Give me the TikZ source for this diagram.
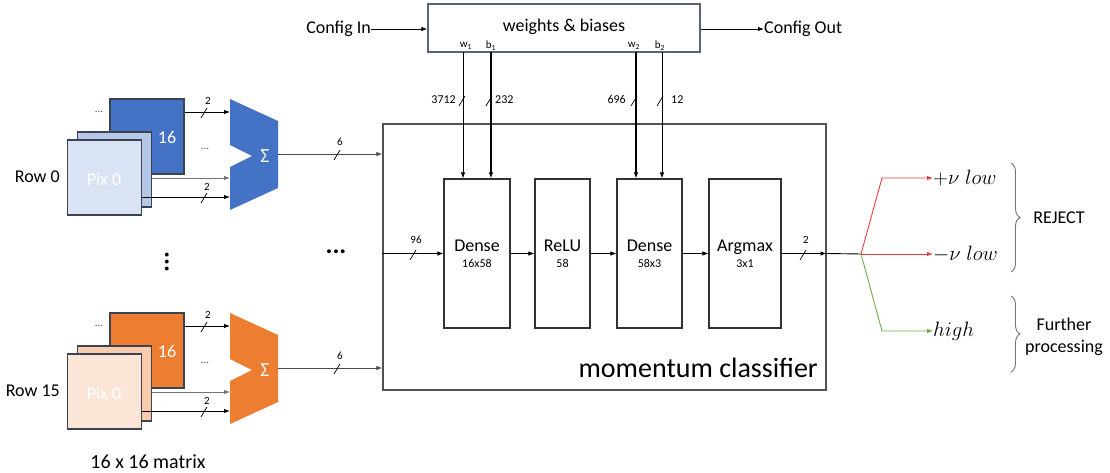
\documentclass[tikz,border=0pt]{standalone}
\usepackage{fontspec}
\setmainfont{Carlito}
\usetikzlibrary{arrows.meta,decorations.pathreplacing}
\definecolor{bdark}{HTML}{4472C4}
\definecolor{bmid}{HTML}{B4C7E7}
\definecolor{blight}{HTML}{DAE3F3}
\definecolor{odark}{HTML}{ED7D31}
\definecolor{omid}{HTML}{F8CBAD}
\definecolor{olight}{HTML}{FBE5D6}
\definecolor{edgegray}{HTML}{333333}
\definecolor{pixedge}{HTML}{3B4250}
\definecolor{wbedge}{HTML}{5A6478}
\definecolor{rline}{HTML}{F03C3C}
\definecolor{gline}{HTML}{70AD47}
\tikzset{
  txt/.style={font=\fontsize{18}{22}\selectfont, inner sep=0pt},
  tiny/.style={font=\fontsize{11}{13}\selectfont, inner sep=0pt},
  busnum/.style={font=\fontsize{12}{14}\selectfont, inner sep=0pt},
  arr/.style={line width=0.9pt, -{Latex[length=6pt,width=4.5pt]}},
  pixbox/.style={draw=pixedge, line width=1.2pt, minimum width=74pt, minimum height=75pt, inner sep=0pt},
  layer/.style={draw=edgegray, line width=1.1pt, minimum height=149pt, inner sep=0pt, align=center,
    font=\fontsize{18}{17}\selectfont},
  busslash/.pic={\draw[line width=0.7pt] (-3,5) -- (3,-5);},
  mathlbl/.style={font=\fontsize{20}{24}\selectfont, inner sep=0pt, anchor=west},
}
\newcommand\pixgroup[7]{%
\begin{scope}[shift={(0,#2)}]
  \node[pixbox, fill=#3] (back#1) at (147,136.5) {};
  \node[pixbox, fill=#4] (mid#1) at (114.5,169.5) {};
  \node[pixbox, fill=#5] (front#1) at (104.5,177.5) {};
  \node[txt, text=white] (sixteen#1) at (167,137) {16};
  \node[txt, text=white] (pix#1) at (104,179) {Pix 0};
  \node[tiny, text=black!70] (dotsA#1) at (99,112) {...};
  \node[tiny, text=black!70] (dotsB#1) at (205,149) {...};
  \node[txt, anchor=east] (row#1) at (60,#7) {#6};
  \fill[#3] (230,99) -- (278,121) -- (278,188) -- (230,210) -- (230,167) -- (252,156) -- (230,145) -- cycle;
  \node[font=\fontsize{20}{24}\selectfont, inner sep=0pt, text=white] (sigma#1) at (265,156) {Σ};
  \coordinate (tinA#1) at (230,112);
  \coordinate (tinB#1) at (230,178);
  \coordinate (tinC#1) at (230,197);
  \coordinate (tout#1) at (278,154);
  \draw[arr] (tinA#1 -| back#1.east) -- (tinA#1);
  \draw[arr, draw=black!55] (tinB#1 -| mid#1.east) -- (tinB#1);
  \draw[arr] (tinC#1 -| front#1.east) -- (tinC#1);
  \path (204,113) pic{busslash} (204,198) pic{busslash};
  \node[tiny] (nA#1) at (208,101) {2};
  \node[tiny] (nC#1) at (207,187) {2};
  \draw[arr, draw=black!70] (tout#1) -- (tout#1 -| cls.west);
  \path (337,155) pic{busslash};
  \node[tiny] (nO#1) at (340,142) {6};
\end{scope}}
\begin{document}
\begin{tikzpicture}[x=1pt,y=-1pt]
\useasboundingbox[fill=white] (0,0) rectangle (1110,473);

% weights & biases
\node[draw=wbedge, line width=1.2pt, minimum width=272pt, minimum height=48pt, inner sep=0pt] (wb) at (564,28) {};
\node[txt] (wbtxt) at (564,27) {weights \& biases};
\node[txt, anchor=east] (cin) at (371,29) {Config In};
\node[txt, anchor=west] (cout) at (764,29) {Config Out};
\draw[arr] (cin.east) -- (cin.east -| wb.west);
\draw[arr] (wb.east |- cout.west) -- (cout.west);
\node[tiny] (lw1) at (466,46) {w\textsubscript{1}};
\node[tiny] (lb1) at (491,46) {b\textsubscript{1}};
\node[tiny] (lw2) at (634,46) {w\textsubscript{2}};
\node[tiny] (lb2) at (660,46) {b\textsubscript{2}};

% classifier
\node[draw=edgegray!85, line width=1.2pt, minimum width=443pt, minimum height=266pt, inner sep=0pt] (cls) at (604.5,257) {};
\node[font=\fontsize{28}{32}\selectfont, inner sep=0pt, anchor=east] (clstxt) at (818,368) {momentum classifier};

\node[layer, minimum width=66pt] (d1) at (477,253.5) {Dense\\[-1pt]{\fontsize{12}{14}\selectfont 16x58}};
\node[layer, minimum width=55pt] (relu) at (562.5,253.5) {ReLU\\[-1pt]{\fontsize{12}{14}\selectfont 58}};
\node[layer, minimum width=65pt] (d2) at (649.5,253.5) {Dense\\[-1pt]{\fontsize{12}{14}\selectfont 58x3}};
\node[layer, minimum width=72pt] (amax) at (745,253.5) {Argmax\\[-1pt]{\fontsize{12}{14}\selectfont 3x1}};

% weight buses
\coordinate (w1) at (463,52);
\coordinate (b1) at (491,52);
\coordinate (w2) at (636,52);
\coordinate (b2) at (662,52);
\draw[arr] (w1) -- (w1 |- d1.north);
\draw[arr, line width=1.3pt] (b1) -- (b1 |- d1.north);
\draw[arr, line width=1.3pt] (w2) -- (w2 |- d2.north);
\draw[arr] (b2) -- (b2 |- d2.north);
\path (462,101) pic{busslash} (489,101) pic{busslash} (634,101) pic{busslash} (660,101) pic{busslash};
\node[busnum, anchor=east] (n3712) at (456,100) {3712};
\node[busnum, anchor=west] (n232) at (495,100) {232};
\node[busnum, anchor=east] (n696) at (626,99) {696};
\node[busnum, anchor=west] (n12) at (671,100) {12};

% main chain
\draw[arr] (d1.west -| cls.west) -- (d1.west);
\path (413,255) pic{busslash};
\node[tiny] (n96) at (416,240) {96};
\draw[arr] (d1.east) -- (relu.west);
\draw[arr] (relu.east) -- (d2.west);
\draw[arr] (d2.east) -- (amax.west);
\coordinate (outb) at (amax.east -| cls.east);
\draw[arr] (amax.east) -- (outb);
\path (803,255) pic{busslash};
\node[tiny] (n2o) at (806,240) {2};

% pixel groups
\pixgroup{a}{0}{bdark}{bmid}{blight}{Row 0}{177}
\pixgroup{b}{214}{odark}{omid}{olight}{Row 15}{177}
\node[font=\bfseries\fontsize{26}{28}\selectfont, inner sep=0pt, rotate=90] (vdots) at (167,262) {...};
\node[font=\bfseries\fontsize{26}{28}\selectfont, inner sep=0pt] (hdots) at (336,252) {...};
\node[font=\fontsize{20}{24}\selectfont, inner sep=0pt] (matrix) at (148,462) {16 x 16 matrix};

% outputs
\coordinate (split) at (861,254);
\node[mathlbl] (plow) at (933,178) {$+\nu\;low$};
\node[mathlbl] (mlow) at (933,254) {$-\nu\;low$};
\node[mathlbl] (high) at (933,331) {$high$};
\draw[line width=0.9pt] (outb) -- (split);
\draw[arr, draw=rline, -{Latex[length=6pt,width=4.5pt,fill=rline]}] (split) -- (882,178) -- (plow.west);
\draw[arr, draw=rline, -{Latex[length=6pt,width=4.5pt,fill=rline]}] (split) -- (mlow.west);
\draw[arr, draw=gline, -{Latex[length=6pt,width=4.5pt,fill=gline]}] (split) -- (882,331) -- (high.west);

% braces
\coordinate (brA) at (1011,163);
\coordinate (brB) at (1011,272);
\coordinate (brC) at (1011,296);
\coordinate (brD) at (1011,372);
\draw[black!55, line width=0.9pt, decorate, decoration={brace, amplitude=9pt}] (brA) -- (brB);
\draw[black!55, line width=0.9pt, decorate, decoration={brace, amplitude=9pt}] (brC) -- (brD);
\node[txt] (reject) at (1059,218) {REJECT};
\node[txt, align=center] (further) at (1064,337) {Further\\processing};
\end{tikzpicture}
\end{document}
